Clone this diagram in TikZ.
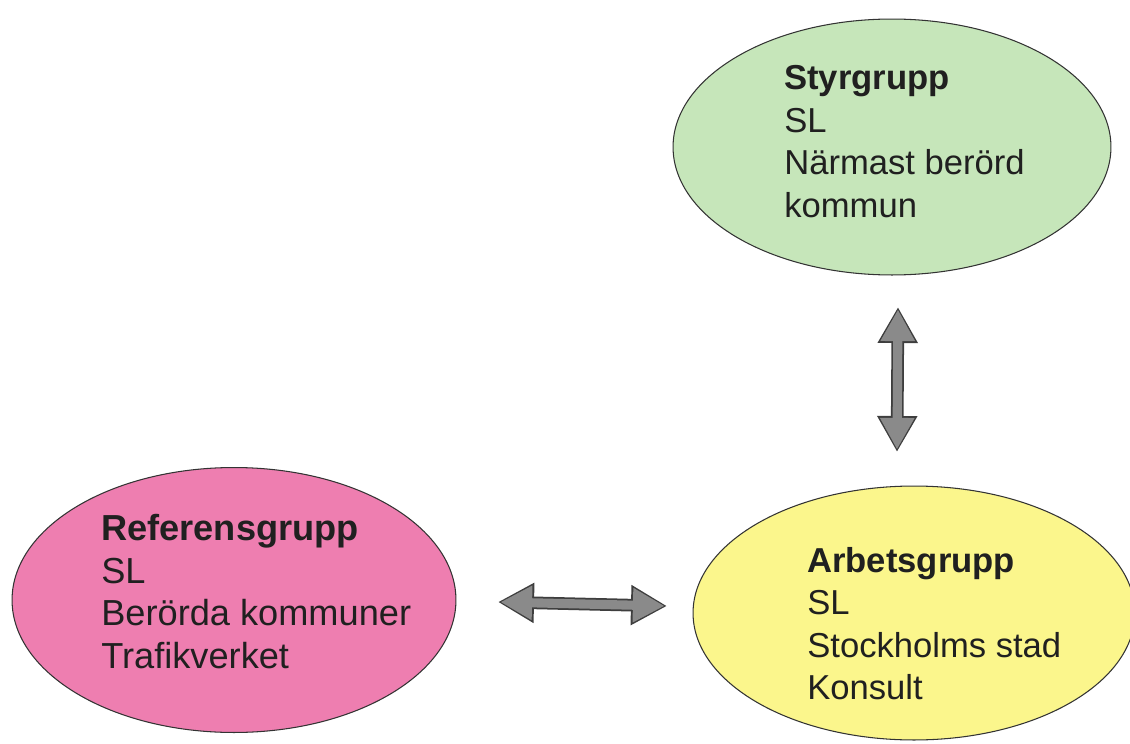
\documentclass[tikz,border=0pt]{standalone}
\usepackage{fontspec}
\setmainfont{Liberation Sans}
\usetikzlibrary{shapes.geometric,arrows.meta}
\definecolor{styrgreen}{RGB}{198,230,186}
\definecolor{refpink}{RGB}{238,126,176}
\definecolor{arbyellow}{RGB}{251,246,140}
\definecolor{pilfill}{RGB}{138,138,138}
\definecolor{pilkant}{RGB}{62,62,62}
\definecolor{textgray}{RGB}{32,32,32}

\begin{document}
\begin{tikzpicture}[x=0.02cm,y=-0.02cm]
\tikzset{font={\fontsize{19.7}{24.2}\selectfont}}
\tikzset{grupp/.style={ellipse,draw=black!80,line width=0.6pt,inner sep=0pt},
  gtext/.style={anchor=north west,align=left,inner sep=0pt,text=textgray},
  bigarrow/.style={draw=pilkant,line width=7.2pt,
    {Triangle[length=20.5pt,width=21.5pt]}-{Triangle[length=20.5pt,width=21.5pt]},
    postaction={draw=pilfill,line width=5.2pt,shorten <=1.4pt,shorten >=1.4pt,
    {Triangle[length=18pt,width=18.4pt]}-{Triangle[length=18pt,width=18.4pt]}}}}
\useasboundingbox (0,0) rectangle (1130,744);

%Styrgrupp
\node[grupp,fill=styrgreen,minimum width=8.76cm,minimum height=5.12cm](styr) at (892,147) {};
\node[gtext](styrtext) at (784,65) {\textbf{Styrgrupp}\\SL\\Närmast berörd\\kommun};

%Referensgrupp
\node[grupp,fill=refpink,minimum width=8.88cm,minimum height=5.3cm](refer) at (234,600) {};
\node[gtext,font={\fontsize{20.6}{24.2}\selectfont}](refertext) at (101,514) {\textbf{Referensgrupp}\\SL\\Berörda kommuner\\Trafikverket};

%Arbetsgrupp
\node[grupp,fill=arbyellow,minimum width=8.84cm,minimum height=5.08cm](arb) at (914,613) {};
\node[gtext](arbtext) at (807,547) {\textbf{Arbetsgrupp}\\SL\\Stockholms stad\\Konsult};

% pilar
\coordinate (styrpil) at (898,307);
\coordinate (arbpil) at (897,452);
\coordinate (referpil) at (498,602);
\coordinate (arbvpil) at (667,606);
\draw[bigarrow] (styrpil) -- (arbpil);
\draw[bigarrow] (referpil) -- (arbvpil);

\end{tikzpicture}
\end{document}
